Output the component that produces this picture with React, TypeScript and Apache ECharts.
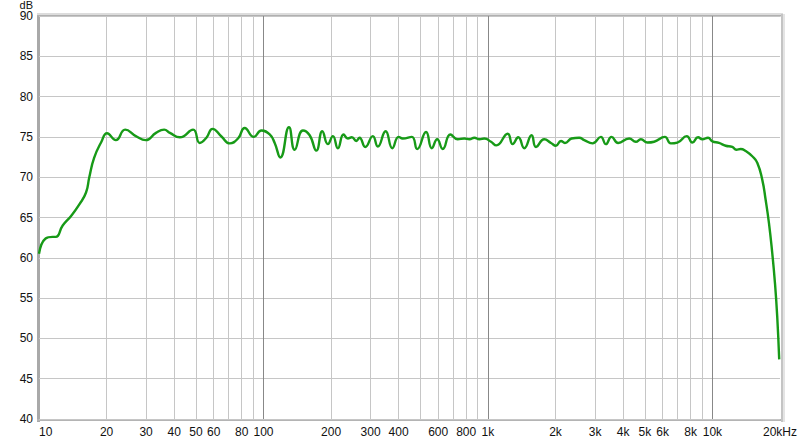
import React, { useEffect, useRef } from "react";
import * as echarts from "echarts";

// Frequency response (Hz, dB)
const freqHz = [
  10, 10.7, 11.5, 11.9, 12.75, 13.9, 15.1, 16.2, 16.75, 17.6,
  18.9, 20.1, 22.0, 24.2, 27.0, 29.9, 33.2, 36.1, 38.3, 42.4,
  48.6, 52.0, 55.7, 59.3, 65.0, 70.7, 77.0, 82.5, 90.5, 97.9,
  106.6, 112.2, 118.9, 129.9, 137.7, 149.9, 160.6, 172, 182.8, 193.6,
  203.8, 214.5, 227.4, 237.6, 247.6, 259, 267.9, 284, 307, 323,
  350, 375, 400, 417, 458, 484, 530, 562, 594, 629,
  680, 733, 785, 827, 870, 916, 964, 1032, 1090, 1224,
  1288, 1365, 1452, 1564, 1637, 1782, 1909, 2009, 2115, 2203,
  2357, 2550, 2685, 2923, 3185, 3352, 3550, 3802, 4256, 4559,
  4799, 5134, 5499, 6136, 6524, 6980, 7686, 8139, 8630, 9019,
  9562, 10000, 10700, 11460, 12260, 12780, 13360, 14070, 15050, 15840,
  16670, 17260, 17860, 18470, 18990, 19440, 19840,
];
const levelDb = [
  60.5, 62.4, 62.6, 62.6, 64.0, 65.2, 66.6, 68.1, 70.0, 72.4,
  74.3, 75.45, 74.6, 75.9, 75.1, 74.6, 75.5, 75.9, 75.5, 74.95,
  75.9, 74.25, 74.9, 76.0, 75.05, 74.2, 74.8, 76.1, 75.0, 75.8,
  75.3, 74.25, 72.45, 76.2, 73.4, 75.8, 75.2, 73.3, 75.7, 74.1,
  75.1, 73.6, 75.3, 74.8, 74.95, 74.5, 74.9, 73.75, 75.1, 73.8,
  75.7, 73.6, 75.0, 74.8, 75.0, 73.5, 75.6, 73.6, 74.7, 73.5,
  75.3, 74.7, 74.8, 74.7, 74.9, 74.7, 74.8, 74.4, 73.95, 75.4,
  74.1, 74.95, 73.6, 75.2, 73.75, 74.7, 74.25, 73.9, 74.5, 74.25,
  74.8, 74.9, 74.6, 74.2, 75.0, 74.1, 75.0, 74.25, 74.8, 74.4,
  74.7, 74.3, 74.4, 75.0, 74.2, 74.3, 75.1, 74.3, 74.95, 74.7,
  74.9, 74.45, 74.25, 73.9, 73.75, 73.4, 73.5, 73.25, 72.6, 71.8,
  69.7, 67.2, 64.3, 60.6, 56.9, 52.7, 47.4,
];

// Axis ticks
const xLabelFreqs = [10, 20, 30, 40, 50, 60, 80, 100, 200, 300, 400, 600, 800, 1000, 2000, 3000, 4000, 5000, 6000, 8000, 10000, 20000];
const xGridFreqs = [20, 30, 40, 50, 60, 70, 80, 90, 200, 300, 400, 500, 600, 700, 800, 900, 2000, 3000, 4000, 5000, 6000, 7000, 8000, 9000];
const xDecadeFreqs = [100, 1000, 10000];
const fMin = 10;
const fMax = 20000;
const yMin = 40;
const yMax = 90;
const yStep = 5;

const FONT = "'Liberation Sans', Arial, sans-serif";

function fmtFreq(v: number): string {
  const f = Math.round(Math.pow(10, v));
  if (f >= 20000) return "20kHz";
  if (f >= 1000) return f / 1000 + "k";
  return String(f);
}

export default function App() {
  const ref = useRef<HTMLDivElement>(null);
  useEffect(() => {
    if (!ref.current) return;
    const chart = echarts.init(ref.current, undefined, { renderer: "svg" });
    const lg = (f: number) => Math.log10(f);
    const xmin = lg(fMin);
    const xmax = lg(fMax);
    chart.setOption({
      animation: false,
      backgroundColor: "#ffffff",
      grid: { left: 39, right: 19, top: 16, bottom: 24, show: false },
      xAxis: [
        {
          type: "value",
          min: xmin,
          max: xmax,
          position: "bottom",
          axisLine: { show: false },
          axisTick: { show: false, customValues: xGridFreqs.map(lg) },
          axisLabel: {
            customValues: xLabelFreqs.map(lg),
            formatter: (v: number) => fmtFreq(v),
            color: "#111111",
            fontSize: 12,
            fontFamily: FONT,
            margin: 7,
            alignMinLabel: "left",
            showMinLabel: true,
            showMaxLabel: true,
          },
          splitLine: { show: true, lineStyle: { color: "#c6c6c6", width: 1 } },
        },
        {
          type: "value",
          min: xmin,
          max: xmax,
          position: "top",
          axisLine: { show: false },
          axisTick: { show: false, customValues: xDecadeFreqs.map(lg) },
          axisLabel: { show: false },
          splitLine: { show: true, lineStyle: { color: "#888888", width: 1 } },
        },
      ],
      yAxis: {
        type: "value",
        min: yMin,
        max: yMax,
        interval: yStep,
        axisLine: { show: false },
        axisTick: { show: false },
        axisLabel: { color: "#111111", fontSize: 12, lineHeight: 12, fontFamily: FONT, margin: 6 },
        splitLine: { show: true, lineStyle: { color: "#c6c6c6", width: 1 } },
      },
      graphic: [
        { type: "rect", shape: { x: 37, y: 14, width: 3, height: 408 }, style: { fill: "#a9a9a9" }, silent: true },
        { type: "rect", shape: { x: 37, y: 419, width: 746, height: 2 }, style: { fill: "#b4b4b4" }, silent: true },
        { type: "rect", shape: { x: 37, y: 13, width: 746, height: 2 }, style: { fill: "#dcdcdc" }, silent: true },
        { type: "rect", shape: { x: 37, y: 15, width: 746, height: 1.5 }, style: { fill: "#b0b0b0" }, silent: true },
        { type: "rect", shape: { x: 781, y: 14, width: 2, height: 408 }, style: { fill: "#c4c4c4" }, silent: true },
        { type: "rect", shape: { x: 783, y: 14, width: 2, height: 408 }, style: { fill: "#e4e4e4" }, silent: true },
        {
          type: "text",
          x: 33,
          y: 0,
          style: { text: "dB", fill: "#111111", font: `11px ${FONT}`, lineHeight: 9, textAlign: "right", textVerticalAlign: "top" },
          silent: true,
        },
      ],
      series: [
        {
          type: "line",
          xAxisIndex: 0,
          data: freqHz.map((f, i) => [lg(f), levelDb[i]]),
          smooth: 0.5,
          showSymbol: false,
          symbol: "none",
          lineStyle: { color: "#179a17", width: 2.4 },
          z: 5,
        },
      ],
    });
    return () => chart.dispose();
  }, []);
  return (
    <div
      ref={ref}
      style={{ position: "absolute", left: 0, top: 0, width: 800, height: 443 }}
    />
  );
}
